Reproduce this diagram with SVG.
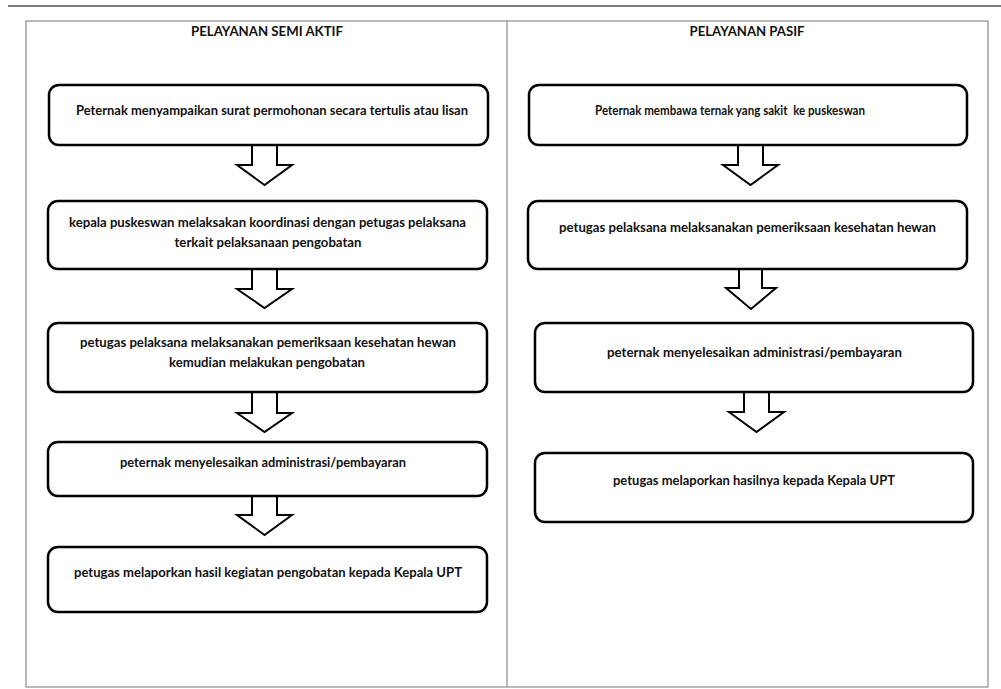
<svg xmlns="http://www.w3.org/2000/svg" width="1001" height="689" viewBox="0 0 1001 689">
<style>
.frame{fill:none;stroke:#8c8c8c;stroke-width:1.2}
.box{fill:#fff;stroke:#000;stroke-width:2.5}
.arr{fill:#fff;stroke:#000;stroke-width:2;stroke-linejoin:miter}
.t{font-family:Lato,"Liberation Sans",sans-serif;font-weight:bold;font-size:14px;fill:#111;text-anchor:middle}
.h{font-family:Lato,"Liberation Sans",sans-serif;font-weight:bold;font-size:14px;fill:#111;text-anchor:middle}
</style>
<rect width="1001" height="689" fill="#fff"/>
<line x1="8" y1="6" x2="1001" y2="6" stroke="#555" stroke-width="1.5"/>
<g id="table">
<rect class="frame" x="26" y="21" width="962" height="666"/>
<line class="frame" x1="507" y1="21" x2="507" y2="687"/>
<text class="h" x="267" y="36" textLength="152" lengthAdjust="spacingAndGlyphs">PELAYANAN SEMI AKTIF</text>
<text class="h" x="747" y="36" textLength="115" lengthAdjust="spacingAndGlyphs">PELAYANAN PASIF</text>
</g>
<g id="connectors">
<polygon class="arr" points="252,145 277,145 277,165 292,165 264.5,185 237,165 252,165"/>
<polygon class="arr" points="252,269 277,269 277,289 292,289 264.5,308 237,289 252,289"/>
<polygon class="arr" points="252,392 277,392 277,413 292,413 264.5,432 237,413 252,413"/>
<polygon class="arr" points="252,496 277,496 277,515 292,515 264.5,535 237,515 252,515"/>
<polygon class="arr" points="738,145 763,145 763,165 778,165 750.5,185 723,165 738,165"/>
<polygon class="arr" points="739,269 762,269 762,288 776,288 751,309 726,288 739,288"/>
<polygon class="arr" points="744,392 769,392 769,412 784,412 756.5,432 729,412 744,412"/>
</g>
<g id="L1">
<rect class="box" x="49" y="85" width="439" height="60" rx="10"/>
<text class="t" x="272" y="115" textLength="392" lengthAdjust="spacingAndGlyphs">Peternak menyampaikan surat permohonan secara tertulis atau lisan</text>
</g>
<g id="L2">
<rect class="box" x="48" y="201" width="439" height="68" rx="10"/>
<text class="t" x="267.5" y="227" textLength="397" lengthAdjust="spacingAndGlyphs">kepala puskeswan melaksakan koordinasi dengan petugas pelaksana</text>
<text class="t" x="268" y="247" textLength="187" lengthAdjust="spacingAndGlyphs">terkait pelaksanaan pengobatan</text>
</g>
<g id="L3">
<rect class="box" x="48" y="323" width="439" height="69" rx="10"/>
<text class="t" x="268" y="347" textLength="376" lengthAdjust="spacingAndGlyphs">petugas pelaksana melaksanakan pemeriksaan kesehatan hewan</text>
<text class="t" x="267" y="367" textLength="196" lengthAdjust="spacingAndGlyphs">kemudian melakukan pengobatan</text>
</g>
<g id="L4">
<rect class="box" x="48" y="442" width="439" height="54" rx="10"/>
<text class="t" x="263" y="467" textLength="286" lengthAdjust="spacingAndGlyphs">peternak menyelesaikan administrasi/pembayaran</text>
</g>
<g id="L5">
<rect class="box" x="48" y="547" width="439" height="65" rx="10"/>
<text class="t" x="268" y="577" textLength="388" lengthAdjust="spacingAndGlyphs">petugas melaporkan hasil kegiatan pengobatan kepada Kepala UPT</text>
</g>
<g id="R1">
<rect class="box" x="529" y="85" width="438" height="60" rx="10"/>
<text class="t" x="730" y="115" textLength="270" lengthAdjust="spacingAndGlyphs" xml:space="preserve">Peternak membawa ternak yang sakit  ke puskeswan</text>
</g>
<g id="R2">
<rect class="box" x="528" y="201" width="439" height="68" rx="10"/>
<text class="t" x="747.5" y="232" textLength="377" lengthAdjust="spacingAndGlyphs">petugas pelaksana melaksanakan pemeriksaan kesehatan hewan</text>
</g>
<g id="R3">
<rect class="box" x="535" y="323" width="438" height="69" rx="10"/>
<text class="t" x="754.5" y="357" textLength="295" lengthAdjust="spacingAndGlyphs">peternak menyelesaikan administrasi/pembayaran</text>
</g>
<g id="R4">
<rect class="box" x="535" y="453" width="438" height="69" rx="10"/>
<text class="t" x="754" y="485" textLength="282" lengthAdjust="spacingAndGlyphs">petugas melaporkan hasilnya kepada Kepala UPT</text>
</g>
</svg>
